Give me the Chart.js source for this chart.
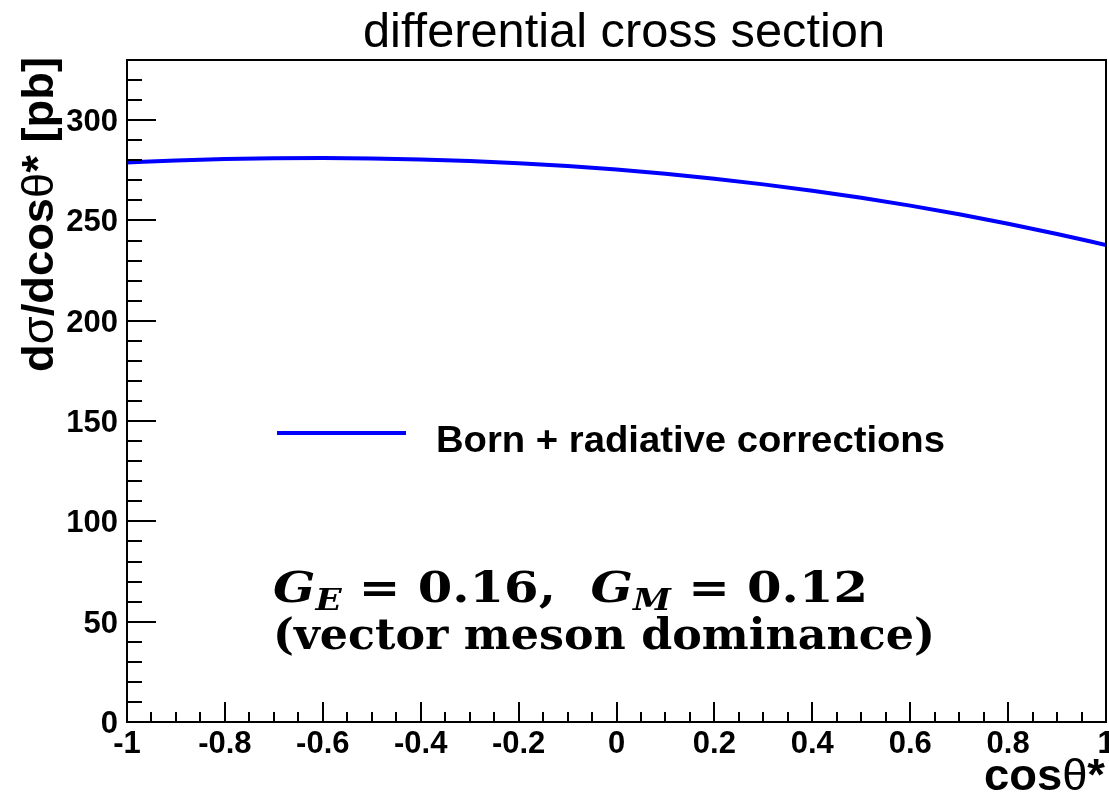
<!DOCTYPE html>
<html>
<head>
<meta charset="utf-8">
<title>differential cross section</title>
<script src="https://cdn.jsdelivr.net/npm/chart.js@4/dist/chart.umd.min.js"></script>
<style>
  html, body { margin: 0; padding: 0; background: #fff; }
  canvas { display: block; }
</style>
</head>
<body>
<canvas id="xsecChart" width="1109" height="793"></canvas>
<script>
// cos(theta*) sample points and dsigma/dcos(theta*) in pb
const cosTheta = [-1.0, -0.9, -0.8, -0.7, -0.6, -0.5, -0.4, -0.3, -0.2, -0.1, 0.0,
                  0.1, 0.2, 0.3, 0.4, 0.5, 0.6, 0.7, 0.8, 0.9, 1.0];
const dSigma = [278.9, 279.9, 280.6, 281.0, 281.1, 280.9, 280.4, 279.6, 278.5, 277.1, 275.4,
                273.3, 270.8, 268.0, 264.8, 261.3, 257.4, 253.1, 248.4, 243.3, 237.8];

const xTickLabels = ['-1', '-0.8', '-0.6', '-0.4', '-0.2', '0', '0.2', '0.4', '0.6', '0.8', '1'];
const xMajorTicks = [-1, -0.8, -0.6, -0.4, -0.2, 0, 0.2, 0.4, 0.6, 0.8, 1];
const yTickLabels = ['0', '50', '100', '150', '200', '250', '300'];
const yMajorTicks = [0, 50, 100, 150, 200, 250, 300];
const xRange = [-1, 1];
const yRange = [0, 330];

const seriesLabel = 'Born + radiative corrections';

const SANS = '"Liberation Sans", Arial, Helvetica, sans-serif';
const SERIF = '"DejaVu Serif", "Liberation Serif", serif';

// draws a run of text pieces, squeezed/stretched to a given width
function drawRun(ctx, parts, x, y, targetW, align) {
    let natural = 0;
    parts.forEach(p => { ctx.font = p.font; p.w = ctx.measureText(p.t).width; natural += p.w; });
    const s = targetW ? targetW / natural : 1;
    const total = natural * s;
    let x0 = x;
    if (align === 'right') x0 = x - total;
    if (align === 'center') x0 = x - total / 2;
    ctx.save();
    ctx.translate(x0, y);
    ctx.scale(s, 1);
    ctx.textAlign = 'left';
    ctx.textBaseline = 'alphabetic';
    let cx = 0;
    parts.forEach(p => {
        ctx.font = p.font;
        ctx.fillText(p.t, cx, p.dy || 0);
        cx += p.w;
    });
    ctx.restore();
}

const rootStylePlugin = {
    id: 'rootStyle',
    afterDraw(chart) {
        const { ctx, chartArea: a, scales: { x, y } } = chart;
        ctx.save();
        ctx.fillStyle = '#000';
        ctx.strokeStyle = '#000';

        // frame
        ctx.lineWidth = 2;
        ctx.strokeRect(a.left, a.top, a.right - a.left, a.bottom - a.top);

        // y ticks: major every 50, minor every 10, drawn inward
        ctx.lineWidth = 2;
        ctx.beginPath();
        for (let v = yRange[0]; v <= yRange[1] + 1e-9; v += 10) {
            const py = Math.round(y.getPixelForValue(v));
            const len = yMajorTicks.includes(v) ? 29 : 15;
            ctx.moveTo(a.left, py);
            ctx.lineTo(a.left + len, py);
        }
        // x ticks: major every 0.2, minor every 0.05
        for (let i = 0; i <= 40; i++) {
            const v = xRange[0] + i * 0.05;
            const px = Math.round(x.getPixelForValue(v));
            const len = (i % 4 === 0) ? 20 : 10;
            ctx.moveTo(px, a.bottom);
            ctx.lineTo(px, a.bottom - len);
        }
        ctx.stroke();

        // tick labels
        ctx.font = 'bold 31px ' + SANS;
        ctx.textBaseline = 'alphabetic';
        ctx.textAlign = 'right';
        yMajorTicks.forEach((v, i) => {
            ctx.fillText(yTickLabels[i], a.left - 9, y.getPixelForValue(v) + 11);
        });
        ctx.textAlign = 'center';
        xMajorTicks.forEach((v, i) => {
            ctx.fillText(xTickLabels[i], x.getPixelForValue(v), a.bottom + 31);
        });

        // title
        drawRun(ctx, [{ t: 'differential cross section', font: '48px ' + SANS }],
                624, 47, 522, 'center');

        // x axis title
        drawRun(ctx, [
            { t: 'cos', font: 'bold 45px ' + SANS },
            { t: 'θ', font: '45px ' + SANS },
            { t: '*', font: 'bold 45px ' + SANS }
        ], 1105, 790, 121, 'right');

        // y axis title, rotated
        ctx.save();
        ctx.translate(53, 372);
        ctx.rotate(-Math.PI / 2);
        drawRun(ctx, [
            { t: 'd', font: 'bold 44px ' + SANS },
            { t: 'σ', font: '44px ' + SANS },
            { t: '/dcos', font: 'bold 44px ' + SANS },
            { t: 'θ', font: '44px ' + SANS },
            { t: '* [pb]', font: 'bold 44px ' + SANS }
        ], 0, 0, 315, 'left');
        ctx.restore();

        // legend
        const ds = chart.data.datasets[0];
        ctx.strokeStyle = ds.borderColor;
        ctx.lineWidth = 4;
        ctx.beginPath();
        ctx.moveTo(277, 433);
        ctx.lineTo(406, 433);
        ctx.stroke();
        ctx.fillStyle = '#000';
        drawRun(ctx, [{ t: ds.label, font: 'bold 36px ' + SANS }], 436, 452, 509, 'left');

        // form factor annotation
        drawRun(ctx, [
            { t: 'G', font: 'italic bold 42px ' + SERIF },
            { t: 'E', font: 'italic bold 29px ' + SERIF, dy: 8 },
            { t: ' = 0.16,  ', font: 'bold 42px ' + SERIF },
            { t: 'G', font: 'italic bold 42px ' + SERIF },
            { t: 'M', font: 'italic bold 29px ' + SERIF, dy: 8 },
            { t: ' = 0.12', font: 'bold 42px ' + SERIF }
        ], 273, 602, 595, 'left');
        drawRun(ctx, [{ t: '(vector meson dominance)', font: 'bold 42px ' + SERIF }],
                273, 649, 662, 'left');

        ctx.restore();
    }
};

new Chart(document.getElementById('xsecChart'), {
    type: 'scatter',
    data: {
        datasets: [{
            label: seriesLabel,
            data: cosTheta.map((c, i) => ({ x: c, y: dSigma[i] })),
            showLine: true,
            borderColor: '#0000ff',
            borderWidth: 4,
            pointRadius: 0,
            cubicInterpolationMode: 'monotone',
            fill: false
        }]
    },
    options: {
        responsive: false,
        animation: false,
        events: [],
        layout: { padding: { left: 127, right: 3, top: 60, bottom: 71 } },
        plugins: { legend: { display: false }, tooltip: { enabled: false }, title: { display: false } },
        scales: {
            x: { type: 'linear', min: xRange[0], max: xRange[1], display: false },
            y: { type: 'linear', min: yRange[0], max: yRange[1], display: false }
        }
    },
    plugins: [rootStylePlugin]
});
</script>
</body>
</html>
